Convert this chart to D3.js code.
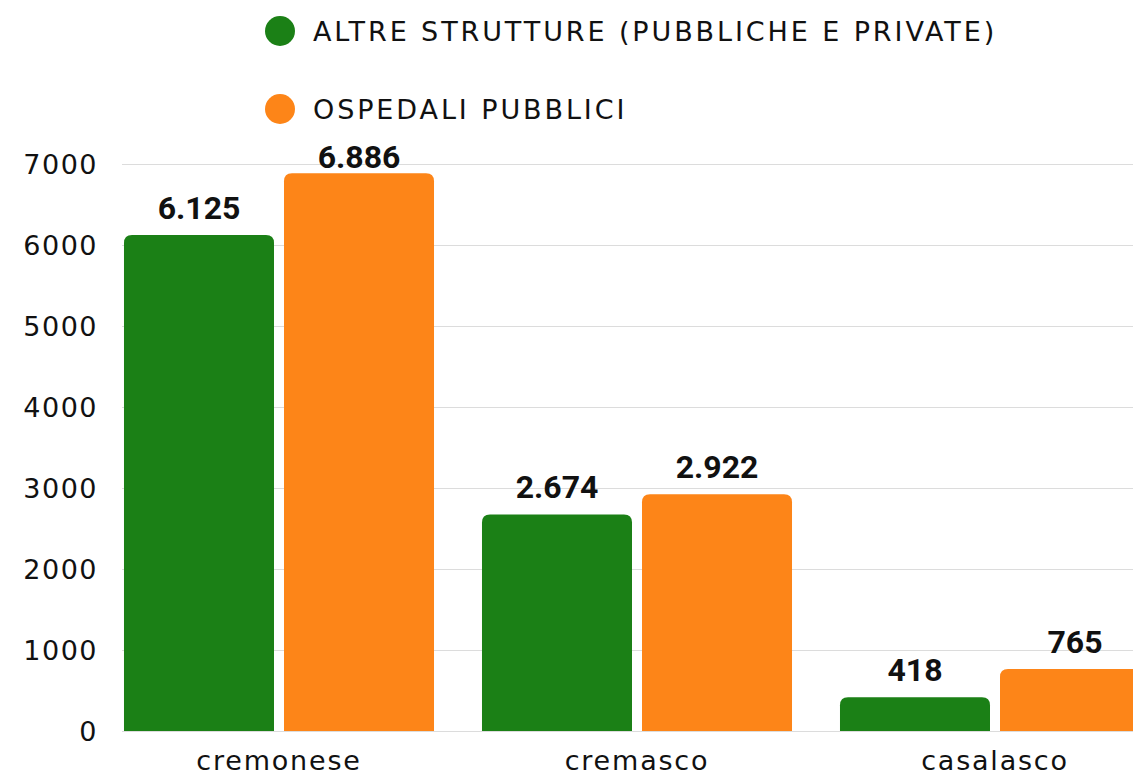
<!DOCTYPE html>
<html><head><meta charset="utf-8">
<script src="https://cdn.jsdelivr.net/npm/d3@7"></script>
<style>
html,body{margin:0;padding:0;background:#fff;}
svg{display:block;}
</style></head>
<body>
<svg id="chart" width="1133" height="776"></svg>
<script>
const categories = ["cremonese", "cremasco", "casalasco"];
const seriesNames = ["ALTRE STRUTTURE (PUBBLICHE E PRIVATE)", "OSPEDALI PUBBLICI"];
const altreStrutture = [6125, 2674, 418];
const ospedaliPubblici = [6886, 2922, 765];
const valueLabels = [["6.125", "2.674", "418"], ["6.886", "2.922", "765"]];
const yTicks = [0, 1000, 2000, 3000, 4000, 5000, 6000, 7000];
const colors = ["#1b8016", "#fd8518"];

const svg = d3.select("#chart");
const W = 1133, H = 776;

const x0 = d3.scaleBand().domain(categories).range([100, 1174]).paddingInner(0.134).paddingOuter(0.067);
const x1 = d3.scaleBand().domain([0, 1]).range([0, x0.bandwidth()]).paddingInner(0.0625).paddingOuter(0);
const y = d3.scaleLinear().domain([0, 7000]).range([731, 164]);

// grid
svg.append("g").selectAll("line").data(yTicks).join("line")
  .attr("x1", 122).attr("x2", W)
  .attr("y1", d => y(d) + 0.5).attr("y2", d => y(d) + 0.5)
  .attr("stroke", "#dcdcdc").attr("stroke-width", 1.2);

// y tick labels
svg.append("g").selectAll("text").data(yTicks).join("text")
  .attr("x", 98).attr("y", d => y(d)).attr("dy", "0.36em")
  .attr("text-anchor", "end")
  .attr("font-family", "DejaVu Sans, sans-serif").attr("font-size", 27)
  .attr("letter-spacing", 1.5)
  .attr("fill", "#111").text(d => d);

const series = [altreStrutture, ospedaliPubblici];
const r = 8;
function barPath(x, w, yTop, yBase) {
  const rr = Math.min(r, (yBase - yTop));
  return `M${x},${yBase}V${yTop + rr}Q${x},${yTop} ${x + rr},${yTop}H${x + w - rr}Q${x + w},${yTop} ${x + w},${yTop + rr}V${yBase}Z`;
}

const bars = [];
series.forEach((vals, si) => vals.forEach((v, ci) => bars.push({si, ci, v, label: valueLabels[si][ci]})));

svg.append("g").selectAll("path").data(bars).join("path")
  .attr("d", d => barPath(x0(categories[d.ci]) + x1(d.si), x1.bandwidth(), y(d.v), y(0)))
  .attr("fill", d => colors[d.si]);

svg.append("g").selectAll("text").data(bars).join("text")
  .attr("x", d => x0(categories[d.ci]) + x1(d.si) + x1.bandwidth() / 2)
  .attr("y", d => Math.max(y(d.v) - 16, y(7000) + 4))
  .attr("text-anchor", "middle")
  .attr("font-family", "Roboto, sans-serif").attr("font-weight", 700).attr("font-size", 32)
  .attr("fill", "#111").text(d => d.label);

// category labels
svg.append("g").selectAll("text").data(categories).join("text")
  .attr("x", d => x0(d) + x0.bandwidth() / 2).attr("y", 770)
  .attr("text-anchor", "middle")
  .attr("font-family", "DejaVu Sans, sans-serif").attr("font-size", 27)
  .attr("letter-spacing", 1.8)
  .attr("fill", "#111").text(d => d);

// legend
const legend = svg.append("g").selectAll("g").data(seriesNames).join("g")
  .attr("transform", (d, i) => `translate(280,${31 + i * 78})`);
legend.append("circle").attr("r", 15).attr("fill", (d, i) => colors[i]);
legend.append("text").attr("x", 33).attr("dy", "0.36em")
  .attr("font-family", "DejaVu Sans, sans-serif").attr("font-size", 27)
  .attr("letter-spacing", 2.9)
  .attr("fill", "#111").text(d => d);
</script>
</body></html>
